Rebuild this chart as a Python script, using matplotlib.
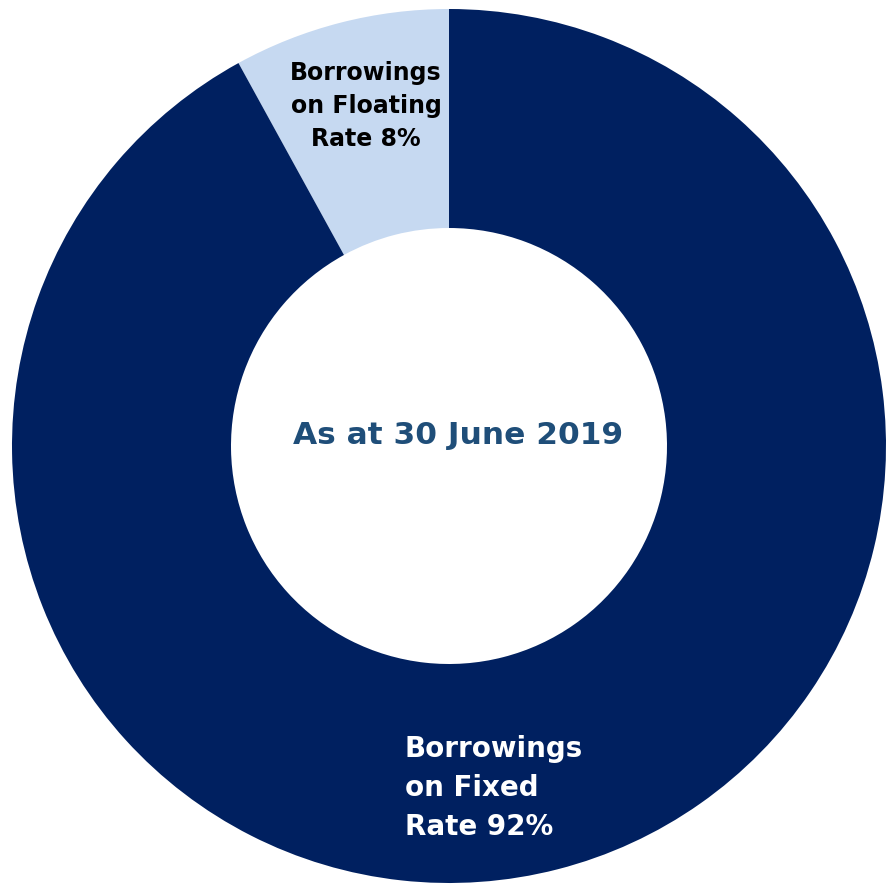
import matplotlib
matplotlib.use("Agg")
import matplotlib.pyplot as plt

categories = ["Borrowings\non Floating\nRate 8%", "Borrowings\non Fixed\nRate 92%"]
values = [8, 92]
colors = ["#C6D9F1", "#002060"]
center_text = "As at 30 June 2019"

W, H = 886, 890
fig = plt.figure(figsize=(W / 100, H / 100), dpi=100)
ax = fig.add_axes([0, 0, 1, 1])

cx, cy, R = 449, H - 446, 437
ax.pie(values, colors=colors, startangle=90, counterclock=True,
       radius=R, center=(cx, cy), frame=True,
       wedgeprops=dict(width=R - 218, linewidth=0))
ax.set_xlim(0, W)
ax.set_ylim(0, H)
ax.set_aspect("equal")
ax.axis("off")

ax.text(366, H - 106, categories[0], ha="center", va="center", fontsize=17,
        fontweight="bold", color="black", linespacing=1.48, family="DejaVu Sans")
ax.text(405, H - 788, categories[1], ha="left", va="center", fontsize=20,
        fontweight="bold", color="white", linespacing=1.5, family="DejaVu Sans")
ax.text(458, H - 435, center_text, ha="center", va="center", fontsize=22.5,
        fontweight="bold", color="#1F4E79", family="DejaVu Sans")

fig.savefig("out.png", dpi=100)
